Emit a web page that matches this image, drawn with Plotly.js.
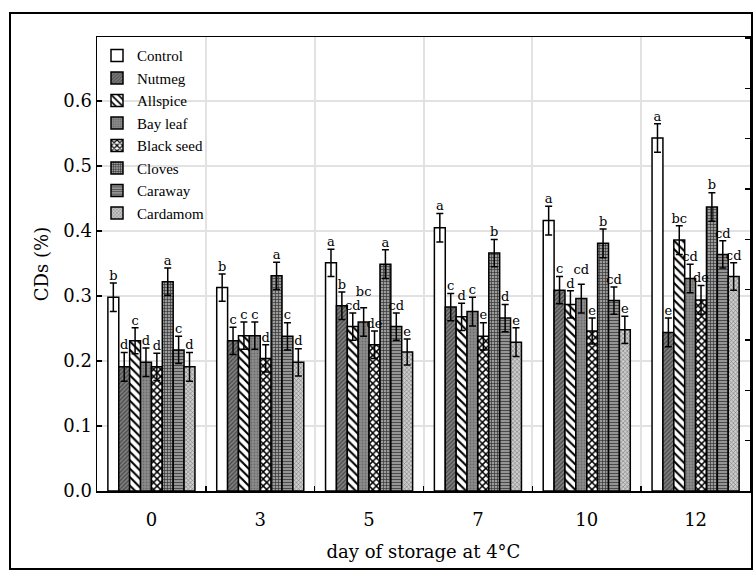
<!DOCTYPE html>
<html>
<head>
<meta charset="utf-8">
<script src="https://cdn.plot.ly/plotly-3.0.1.min.js"></script>
<style>
html,body{margin:0;padding:0;background:#fff;}
#chart{width:753px;height:570px;}
</style>
</head>
<body>
<div id="chart"></div>
<script>
// ---- data ----
const days = ["0", "3", "5", "7", "10", "12"];
const seriesNames = ["Control", "Nutmeg", "Allspice", "Bay leaf", "Black seed", "Cloves", "Caraway", "Cardamom"];

const control   = [0.298, 0.313, 0.351, 0.405, 0.416, 0.543];
const nutmeg    = [0.191, 0.231, 0.285, 0.283, 0.309, 0.244];
const allspice  = [0.231, 0.239, 0.253, 0.268, 0.287, 0.386];
const bayLeaf   = [0.198, 0.239, 0.260, 0.276, 0.296, 0.327];
const blackSeed = [0.191, 0.204, 0.225, 0.238, 0.246, 0.294];
const cloves    = [0.322, 0.331, 0.349, 0.366, 0.381, 0.437];
const caraway   = [0.217, 0.238, 0.253, 0.266, 0.293, 0.364];
const cardamom  = [0.191, 0.198, 0.214, 0.229, 0.248, 0.330];

const errControl   = [0.022, 0.021, 0.021, 0.022, 0.022, 0.022];
const errNutmeg    = [0.022, 0.021, 0.021, 0.021, 0.021, 0.022];
const errAllspice  = [0.020, 0.021, 0.021, 0.021, 0.021, 0.022];
const errBayLeaf   = [0.022, 0.021, 0.022, 0.022, 0.022, 0.022];
const errBlackSeed = [0.021, 0.021, 0.021, 0.021, 0.020, 0.022];
const errCloves    = [0.021, 0.021, 0.022, 0.021, 0.022, 0.022];
const errCaraway   = [0.021, 0.021, 0.021, 0.021, 0.021, 0.021];
const errCardamom  = [0.022, 0.021, 0.020, 0.022, 0.021, 0.021];

const letControl   = ["b", "b", "a", "a", "a", "a"];
const letNutmeg    = ["d", "c", "b", "c", "c", "e"];
const letAllspice  = ["c", "c", "cd", "d", "d", "bc"];
const letBayLeaf   = ["d", "c", "bc", "c", "cd", "cd"];
const letBlackSeed = ["d", "d", "de", "e", "e", "de"];
const letCloves    = ["a", "a", "a", "b", "b", "b"];
const letCaraway   = ["c", "c", "cd", "d", "cd", "cd"];
const letCardamom  = ["d", "d", "e", "e", "e", "cd"];

const values  = [control, nutmeg, allspice, bayLeaf, blackSeed, cloves, caraway, cardamom];
const errors  = [errControl, errNutmeg, errAllspice, errBayLeaf, errBlackSeed, errCloves, errCaraway, errCardamom];
const letters = [letControl, letNutmeg, letAllspice, letBayLeaf, letBlackSeed, letCloves, letCaraway, letCardamom];

// ---- styles ----
const FONT = "DejaVu Serif, Liberation Serif, serif";
const LFONT = "Liberation Serif, DejaVu Serif, serif";
const patterns = [
  {shape: "",   bgcolor: "#ffffff", fgcolor: "#ffffff", size: 6, solidity: 0.3},
  {shape: "/",  bgcolor: "#808080", fgcolor: "#474747", size: 3, solidity: 0.4},
  {shape: "\\", bgcolor: "#ffffff", fgcolor: "#000000", size: 6, solidity: 0.35},
  {shape: ".",  bgcolor: "#8c8c8c", fgcolor: "#6a6a6a", size: 3, solidity: 0.3},
  {shape: "x",  bgcolor: "#ffffff", fgcolor: "#000000", size: 5, solidity: 0.5},
  {shape: "+",  bgcolor: "#9c9c9c", fgcolor: "#333333", size: 3, solidity: 0.4},
  {shape: "-",  bgcolor: "#a5a5a5", fgcolor: "#4a4a4a", size: 3, solidity: 0.45},
  {shape: "x",  bgcolor: "#cccccc", fgcolor: "#6a6a6a", size: 3, solidity: 0.3}
];

const M = {l: 97, r: 3, t: 37, b: 79};
const W = 753, H = 570;
const pw = W - M.l - M.r, ph = H - M.t - M.b;
const pxPerUnitY = 650;            // 0.1 on the y axis = 65 px
const yTop = ph / pxPerUnitY;
const px = v => (v - M.l) / pw;
const py = v => (H - M.b - v) / ph;

const nSeries = seriesNames.length;
const bargap = 0.2;
const barW = (1 - bargap) / nSeries;
const xIdx = days.map((d, i) => i);
const barPx = barW * pw / days.length;
const charHalf = 3.9, letterH = 13;

const traces = [];
for (let s = 0; s < nSeries; s++) {
  traces.push({
    type: "bar",
    name: seriesNames[s],
    x: xIdx,
    y: values[s],
    marker: {
      color: patterns[s].bgcolor,
      line: {color: "#000", width: 1.5},
      pattern: patterns[s].shape ? patterns[s] : undefined
    },
    error_y: {type: "data", array: errors[s], visible: true, color: "#000", thickness: 1.5, width: 3.5},
    hoverinfo: "skip"
  });
}
// significance letters above the error bars (raised when they would collide with the left neighbour)
const letterY = values.map((vals, s) => vals.map((v, i) => v + errors[s][i]));
for (let i = 0; i < days.length; i++) {
  for (let s = 1; s < nSeries; s++) {
    const need = (letters[s - 1][i].length + letters[s][i].length) * charHalf;
    const dy = Math.abs(letterY[s][i] - letterY[s - 1][i]) * pxPerUnitY;
    if (need > barPx - 1 && dy < letterH) {
      letterY[s][i] = Math.max(letterY[s][i], letterY[s - 1][i] + 14 / pxPerUnitY);
    }
  }
}
for (let s = 0; s < nSeries; s++) {
  traces.push({
    type: "scatter",
    mode: "text",
    x: xIdx.map(i => i + (s - (nSeries - 1) / 2) * barW),
    y: letterY[s],
    text: letters[s],
    textposition: "top center",
    textfont: {family: FONT, size: 13, color: "#000"},
    showlegend: false,
    hoverinfo: "skip",
    cliponaxis: false
  });
}
// right-hand tick axis (ticks only)
traces.push({type: "scatter", x: [0], y: [0], yaxis: "y2", mode: "markers",
  marker: {opacity: 0}, showlegend: false, hoverinfo: "skip"});

const boundaries = days.slice(1).map((d, i) => i + 0.5);

const layout = {
  width: W, height: H,
  margin: M,
  paper_bgcolor: "#fff", plot_bgcolor: "#fff",
  barmode: "group", bargap: bargap, bargroupgap: 0,
  font: {family: FONT, color: "#000", size: 15},
  showlegend: true,
  legend: {
    x: 0.0, y: 0.995, xanchor: "left", yanchor: "top",
    bgcolor: "rgba(0,0,0,0)", borderwidth: 0,
    font: {family: LFONT, size: 15, color: "#000"},
    tracegroupgap: 0, itemwidth: 30
  },
  xaxis: {
    range: [-0.5, days.length - 0.5],
    tickmode: "array", tickvals: xIdx, ticktext: days,
    ticks: "", showgrid: false, zeroline: false,
    showline: true, linecolor: "#000", linewidth: 1.5, mirror: true,
    ticklabelstandoff: 12,
    tickfont: {family: FONT, size: 18},
    minor: {tickmode: "array", tickvals: boundaries, showgrid: true, gridcolor: "#e2e2e2", gridwidth: 2,
            ticks: "inside", ticklen: 5, tickcolor: "#000", tickwidth: 1.5},
    title: {text: "day of storage at 4°C", font: {family: FONT, size: 18}, standoff: 16}
  },
  yaxis: {
    range: [0, yTop],
    tickmode: "linear", tick0: 0, dtick: 0.1, tickformat: ".1f",
    ticks: "inside", ticklen: 5, tickwidth: 1.5, tickcolor: "#000",
    showgrid: true, gridcolor: "#e2e2e2", gridwidth: 2, zeroline: false,
    showline: true, linecolor: "#000", linewidth: 1.5, mirror: true,
    tickfont: {family: FONT, size: 18},
    title: {text: "CDs (%)", font: {family: FONT, size: 18}, standoff: 10}
  },
  yaxis2: {
    overlaying: "y", side: "right", range: [0, 0.902],
    tickmode: "linear", tick0: 0, dtick: 0.1,
    ticks: "inside", ticklen: 5, tickwidth: 1.5, tickcolor: "#000",
    showticklabels: false, showgrid: false, zeroline: false, showline: false
  },
  shapes: [{
    type: "rect", xref: "paper", yref: "paper",
    x0: px(10), x1: px(752), y0: py(569), y1: py(13),
    line: {color: "#000", width: 2}, fillcolor: "rgba(0,0,0,0)", layer: "above"
  }]
};

Plotly.newPlot("chart", traces, layout, {displayModeBar: false, staticPlot: true});
</script>
</body>
</html>
